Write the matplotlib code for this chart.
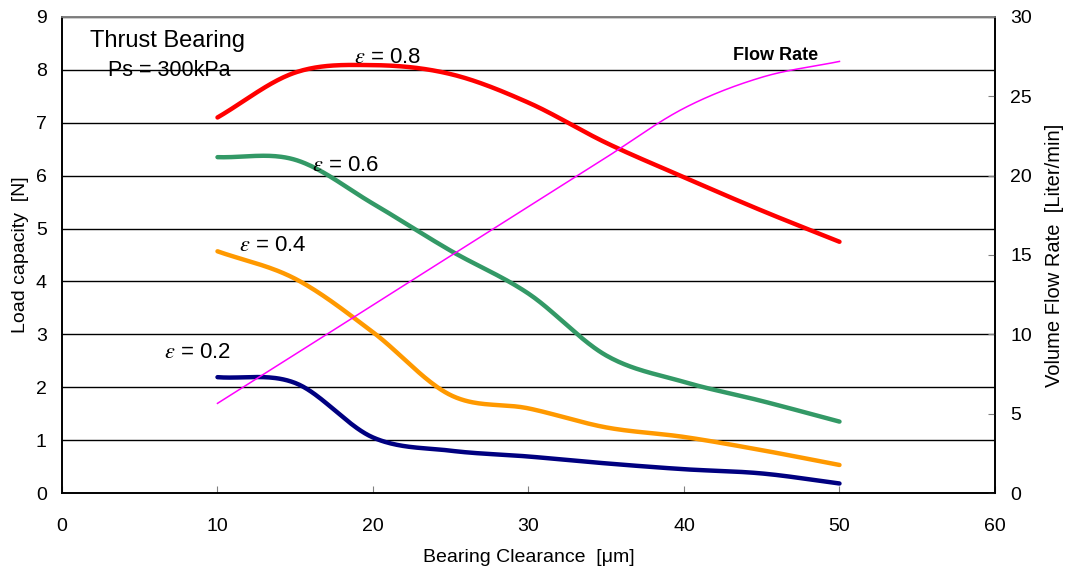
import numpy as np
import matplotlib
matplotlib.use("Agg")
import matplotlib.pyplot as plt

plt.rcParams['font.family'] = ['Liberation Sans', 'DejaVu Sans']
plt.rcParams['mathtext.fontset'] = 'stix'

# ---- data ----
clearance = [10, 15, 20, 25, 30, 35, 40, 45, 50]
load_e02 = [2.19, 2.08, 1.05, 0.80, 0.69, 0.56, 0.45, 0.37, 0.18]
load_e04 = [4.57, 4.05, 3.04, 1.85, 1.60, 1.24, 1.06, 0.81, 0.53]
load_e06 = [6.35, 6.30, 5.47, 4.58, 3.77, 2.60, 2.10, 1.74, 1.35]
load_e08 = [7.10, 7.95, 8.09, 7.92, 7.38, 6.62, 5.97, 5.34, 4.75]
flow_rate = [5.65, 8.74, 11.85, 14.95, 18.05, 21.15, 24.25, 26.2, 27.2]

x_ticks = [0, 10, 20, 30, 40, 50, 60]
y_ticks = list(range(0, 10))
y2_ticks = [0, 5, 10, 15, 20, 25, 30]


def smooth(xs, ys, n=40):
    """Catmull-Rom style smoothing similar to spreadsheet smoothed lines."""
    xs = np.asarray(xs, float)
    ys = np.asarray(ys, float)
    px = np.concatenate([[2 * xs[0] - xs[1]], xs, [2 * xs[-1] - xs[-2]]])
    py = np.concatenate([[2 * ys[0] - ys[1]], ys, [2 * ys[-1] - ys[-2]]])
    ox, oy = [], []
    t = np.linspace(0, 1, n)
    for i in range(1, len(px) - 2):
        p0, p1, p2, p3 = [np.array([px[j], py[j]]) for j in (i - 1, i, i + 1, i + 2)]
        b0 = p1
        b1 = p1 + (p2 - p0) / 6.0
        b2 = p2 - (p3 - p1) / 6.0
        b3 = p2
        pts = ((1 - t)[:, None] ** 3 * b0 + 3 * ((1 - t) ** 2 * t)[:, None] * b1
               + 3 * ((1 - t) * t ** 2)[:, None] * b2 + (t ** 3)[:, None] * b3)
        ox.extend(pts[:, 0])
        oy.extend(pts[:, 1])
    return np.array(ox), np.array(oy)


fig = plt.figure(figsize=(10.67, 5.74), dpi=100)
ax = fig.add_axes([0.0581, 0.1411, 0.8744, 0.8293])
ax2 = ax.twinx()

ax.set_xlim(0, 60)
ax.set_ylim(0, 9)
ax2.set_ylim(0, 30)

for yv in y_ticks[1:]:
    ax.axhline(yv, color='black', lw=1.0, zorder=1)

lw = 3.2
for ys, col in [(load_e02, '#000080'), (load_e04, '#FF9900'),
                (load_e06, '#339966'), (load_e08, '#FF0000')]:
    sx, sy = smooth(clearance, ys)
    ax.plot(sx, sy, color=col, lw=lw, solid_capstyle='round', zorder=3)

fx, fy = smooth(clearance, flow_rate)
ax2.plot(fx, fy, color='#FF00FF', lw=1.1, zorder=3)

ax.set_xticks(x_ticks)
ax.set_yticks(y_ticks)
ax2.set_yticks(y2_ticks)
ax.tick_params(axis='x', direction='in', length=5, color='#808080', labelsize=14, pad=18)
ax.tick_params(axis='y', direction='in', length=0, labelsize=14, pad=11)
ax2.tick_params(axis='y', direction='in', length=5, color='#808080', labelsize=14, pad=11)

for a in (ax, ax2):
    a.spines['top'].set_color('#808080')
    a.spines['left'].set_color('black')
    a.spines['right'].set_color('black')
    a.spines['bottom'].set_color('black')
    for s in a.spines.values():
        s.set_linewidth(1.2)

ax.set_xlabel('Bearing Clearance  [\u03bcm]', fontsize=14, labelpad=10)
ax.set_ylabel('Load capacity  [N]', fontsize=14, labelpad=5)
ax2.set_ylabel('Volume Flow Rate  [Liter/min]', fontsize=14.5, labelpad=9.5)

ax.text(1.8, 8.55, 'Thrust Bearing', fontsize=17, va='center', ha='left')
ax.text(2.96, 7.98, 'Ps = 300kPa', fontsize=15.5, va='center', ha='left')
ax.text(18.8, 8.23, r'$\varepsilon$ = 0.8', fontsize=16, va='center', ha='left')
ax.text(16.1, 6.19, r'$\varepsilon$ = 0.6', fontsize=16, va='center', ha='left')
ax.text(11.4, 4.68, r'$\varepsilon$ = 0.4', fontsize=16, va='center', ha='left')
ax.text(6.56, 2.66, r'$\varepsilon$ = 0.2', fontsize=16, va='center', ha='left')
ax.text(45.9, 8.28, 'Flow Rate', fontsize=13, fontweight='bold', va='center', ha='center')

fig.savefig('out.png', dpi=100)
